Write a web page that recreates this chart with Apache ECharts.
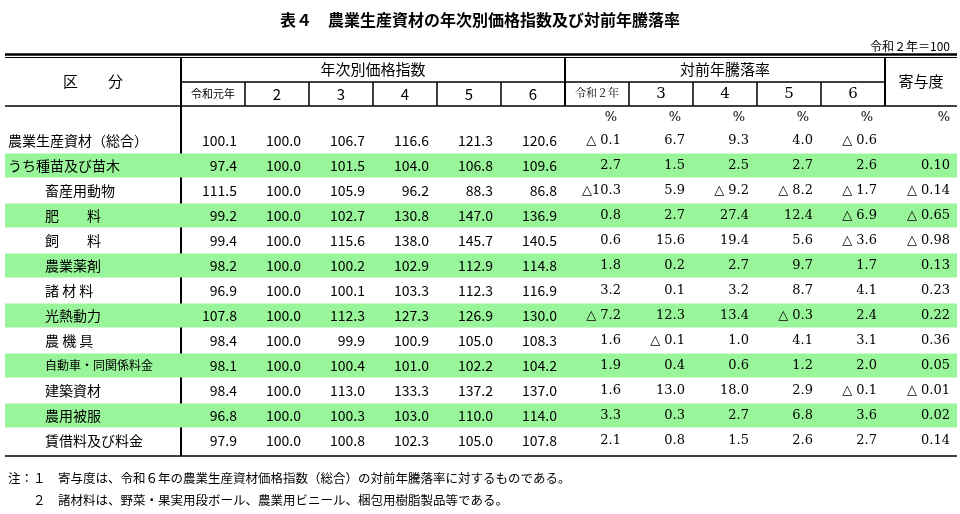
<!DOCTYPE html><html><head><meta charset="utf-8">
<script src="https://cdn.jsdelivr.net/npm/echarts@6/dist/echarts.min.js"></script>
<style>html,body{margin:0;background:#fff}#c{width:960px;height:514px}</style></head><body><div id="c"></div>
<script>
const rowLabels=['農業生産資材（総合）','うち種苗及び苗木','畜産用動物','肥　　料','飼　　料','農業薬剤','諸 材 料','光熱動力','農 機 具','自動車・同関係料金','建築資材','農用被服','賃借料及び料金'];
const colLabels=['令和元年','2','3','4','5','6','令和２年','3','4','5','6','寄与度'];
const idxR1=[100.1,97.4,111.5,99.2,99.4,98.2,96.9,107.8,98.4,98.1,98.4,96.8,97.9];
const idxR2=[100.0,100.0,100.0,100.0,100.0,100.0,100.0,100.0,100.0,100.0,100.0,100.0,100.0];
const idxR3=[106.7,101.5,105.9,102.7,115.6,100.2,100.1,112.3,99.9,100.4,113.0,100.3,100.8];
const idxR4=[116.6,104.0,96.2,130.8,138.0,102.9,103.3,127.3,100.9,101.0,133.3,103.0,102.3];
const idxR5=[121.3,106.8,88.3,147.0,145.7,112.9,112.3,126.9,105.0,102.2,137.2,110.0,105.0];
const idxR6=[120.6,109.6,86.8,136.9,140.5,114.8,116.9,130.0,108.3,104.2,137.0,114.0,107.8];
const chgR2=[-0.1,2.7,-10.3,0.8,0.6,1.8,3.2,-7.2,1.6,1.9,1.6,3.3,2.1];
const chgR3=[6.7,1.5,5.9,2.7,15.6,0.2,0.1,12.3,-0.1,0.4,13.0,0.3,0.8];
const chgR4=[9.3,2.5,-9.2,27.4,19.4,2.7,3.2,13.4,1.0,0.6,18.0,2.7,1.5];
const chgR5=[4.0,2.7,-8.2,12.4,5.6,9.7,8.7,-0.3,4.1,1.2,2.9,6.8,2.6];
const chgR6=[-0.6,2.6,-1.7,-6.9,-3.6,1.7,4.1,2.4,3.1,2.0,-0.1,3.6,2.7];
const contrib=[null,0.10,-0.14,-0.65,-0.98,0.13,0.23,0.22,0.36,0.05,-0.01,0.02,0.14];
const cols=[idxR1,idxR2,idxR3,idxR4,idxR5,idxR6,chgR2,chgR3,chgR4,chgR5,chgR6,contrib];
function fmt(v,c){if(v==null)return '';const d=c===11?2:1;if(v<0){const a=Math.abs(v);return (a<10?'△ ':'△')+a.toFixed(d);}return v.toFixed(d);}
const data=[],bands=[];
cols.forEach((arr,c)=>arr.forEach((v,r)=>data.push([c,r,fmt(v,c)])));
rowLabels.forEach((l,r)=>{if(r%2===1)bands.push([0,r]);});
const serif='"DejaVu Serif","Noto Serif CJK JP","Noto Sans CJK JP",serif';
const sans='"Noto Sans CJK JP",sans-serif';
const ch=echarts.init(document.getElementById('c'));
const L=181,W=64,gl=5,gr=957;
const g=[];
const T=(x,y,t,o)=>g.push(Object.assign({type:'text',x,y,style:Object.assign({text:t,fill:'#000',font:'13px '+sans,align:'center',verticalAlign:'middle'},o||{})}));
const Ln=(x1,y1,x2,y2,w)=>g.push({type:'line',shape:{x1,y1,x2,y2},style:{stroke:'#000',lineWidth:w||1}});
T(480,20,'表４　農業生産資材の年次別価格指数及び対前年騰落率',{font:'bold 16px '+sans});
T(950,46,'令和２年＝100',{align:'right',font:'12px '+sans});
Ln(gl,54.5,gr,54.5,2.5);Ln(gl,57.5,gr,57.5,1);
Ln(L,82,L+11*W,82,1.5);Ln(gl,106,gr,106,1.5);Ln(gl,456,gr,456,1.5);
Ln(L,57,L,456,2);Ln(L+6*W,57,L+6*W,106,2);Ln(L+11*W,57,L+11*W,106,2);
for(let k=1;k<11;k++)if(k!==6)Ln(L+k*W,82,L+k*W,106,1.5);
T(93,81,'区　　分',{font:'15px '+sans});
T(L+3*W,69,'年次別価格指数',{font:'15px '+sans});
T(L+8.5*W,69,'対前年騰落率',{font:'15px '+sans});
T(921,81,'寄与度',{font:'15px '+sans});
colLabels.slice(0,11).forEach((t,k)=>T(L+(k+0.5)*W,94,t,{font:(t.length>1?'11px ':'15px ')+(k>=6?serif:sans)}));
for(let k=6;k<12;k++)T(k===11?950:L+(k+1)*W-12,118,'%',{align:'right',font:'13px '+serif});
T(8,478,'注：１　寄与度は、令和６年の農業生産資材価格指数（総合）の対前年騰落率に対するものである。',{align:'left',font:'12.5px '+sans});
T(8,500,'　　２　諸材料は、野菜・果実用段ボール、農業用ビニール、梱包用樹脂製品等である。',{align:'left',font:'12.5px '+sans});
ch.setOption({animation:false,
grid:{left:L,right:960-L-12*W,top:128,bottom:514-453},
xAxis:{type:'category',data:colLabels,show:false},
yAxis:{type:'category',data:rowLabels,inverse:true,z:5,axisLine:{show:false},axisTick:{show:false},
 axisLabel:{align:'left',margin:L-8,fontSize:14,fontFamily:sans,color:'#000',interval:0,
  formatter:(v,i)=>i<2?'{a|'+v+'}':(i===9?'{s|'+v+'}':'{b|'+v+'}'),
  rich:{a:{fontSize:14,fontFamily:sans},b:{fontSize:14,fontFamily:sans,padding:[0,0,0,37]},s:{fontSize:12,fontFamily:sans,padding:[0,0,0,37]}}}},
series:[
{type:'custom',data:bands,z:1,renderItem:(p,api)=>{const c=api.coord([0,api.value(1)]);const s=api.size([1,1]);
 return {type:'rect',shape:{x:gl,y:c[1]-s[1]/2+0.5,width:gr-gl,height:s[1]-1},style:{fill:'#99f599'}};}},
{type:'custom',data:data,z:3,renderItem:(p,api)=>{const col=api.value(0);const c=api.coord([col,api.value(1)]);const s=api.size([1,1]);
 const txt=data[p.dataIndex][2];
 return {type:'text',x:col===11?950:c[0]+s[0]/2-8,y:c[1],style:{text:txt,align:'right',verticalAlign:'middle',fill:'#000',
  font:(col<6?'14px '+sans:'13px '+serif)}};}}
],graphic:g});
</script></body></html>
